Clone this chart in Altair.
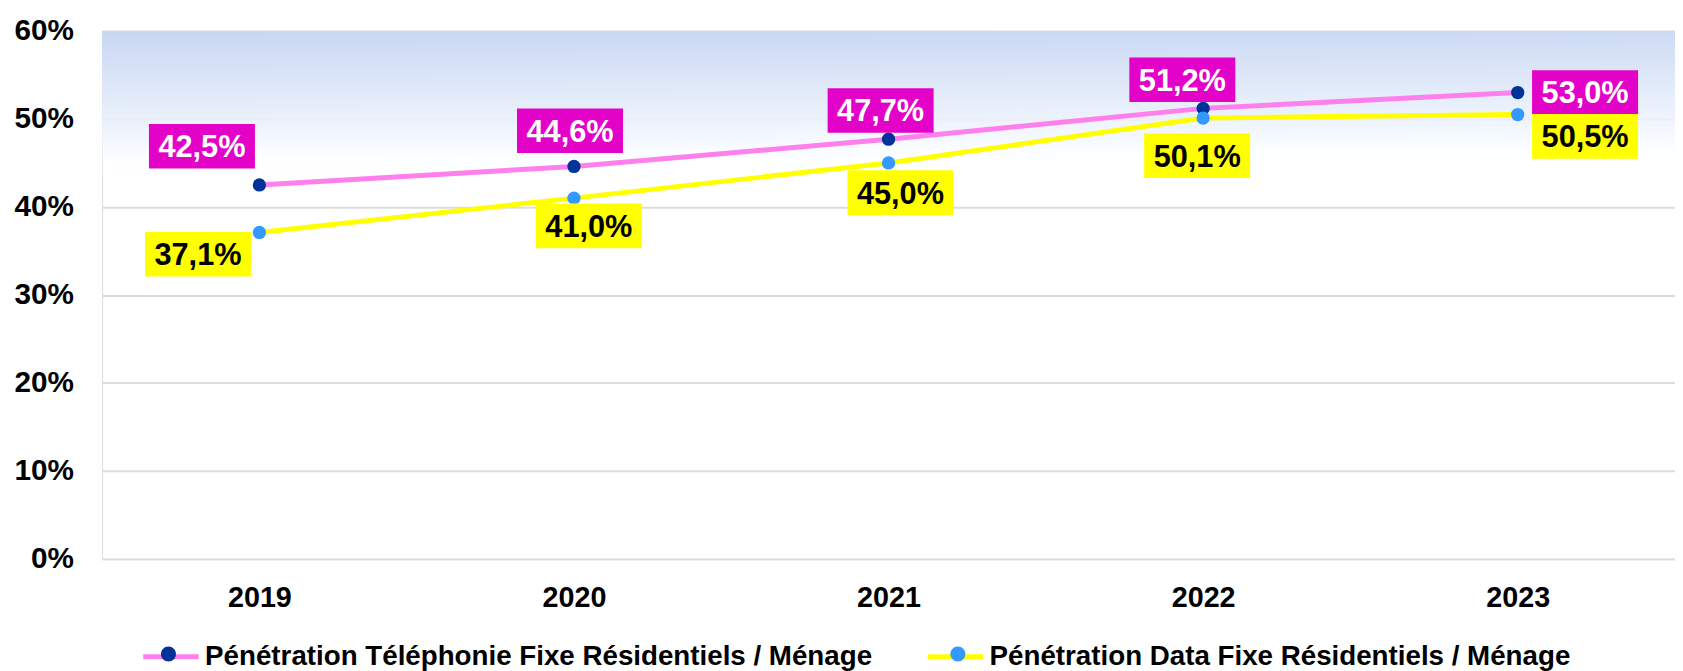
import altair as alt
import pandas as pd

# ---- data ----
years = ["2019", "2020", "2021", "2022", "2023"]
series_names = [
    "Pénétration Téléphonie Fixe Résidentiels / Ménage",
    "Pénétration Data Fixe Résidentiels / Ménage",
]
series_codes = ["t", "d"]
telephonie = [0.425, 0.446, 0.477, 0.512, 0.530]
data_fixe = [0.371, 0.410, 0.450, 0.501, 0.505]
y_ticks = [0, 0.1, 0.2, 0.3, 0.4, 0.5, 0.6]

# label placement (pixel offsets of each value box from its point)
tel_label_dx = [-58, -4, -8, -21, 68]
tel_label_dy = [-39, -36, -29, -29, 0]
data_label_dx = [-62, 15, 12, -6, 68]
data_label_dy = [22, 28, 30, 38, 22]

PINK_LINE = "#FF80EC"
YELLOW = "#FFFF00"
DARK_BLUE = "#003399"
LIGHT_BLUE = "#3399FF"
MAGENTA = "#E302C8"
FONT = "Liberation Sans"

rows = []
for i, yr in enumerate(years):
    rows.append(dict(year=yr, series=series_names[0], code=series_codes[0],
                     value=telephonie[i], dx=tel_label_dx[i], dy=tel_label_dy[i], k=0))
    rows.append(dict(year=yr, series=series_names[1], code=series_codes[1],
                     value=data_fixe[i], dx=data_label_dx[i], dy=data_label_dy[i], k=1))
df = pd.DataFrame(rows)

W, H = 1588, 533

x_enc = alt.X(
    "year:O",
    scale=alt.Scale(type="point", padding=0.5),
    axis=alt.Axis(title=None, labelFont=FONT, labelFontSize=29, labelFontWeight="bold",
                  labelColor="black", labelAngle=0, labelPadding=48,
                  labelBaseline="alphabetic", ticks=False, tickSize=0,
                  domain=False, grid=False),
)
y_enc = alt.Y(
    "value:Q",
    scale=alt.Scale(domain=[0, 0.6], nice=False, zero=True),
    axis=alt.Axis(title=None, format=".0%", values=y_ticks, labelFont=FONT,
                  labelFontSize=30, labelFontWeight="bold", labelColor="black",
                  labelPadding=29, ticks=False, tickSize=0, domain=False,
                  grid=True, gridColor="#dcdcdc", gridWidth=2),
)

base = alt.Chart(df).encode(x=x_enc, y=y_enc)

circle_path = ("M0.27,0 A0.27,0.27 0 1,1 -0.27,0 "
               "A0.27,0.27 0 1,1 0.27,0 Z")

legend_common = dict(
    orient="none", legendX=39, legendY=601, direction="horizontal", title=None,
    symbolSize=3136, labelFont=FONT, labelFontSize=28, labelFontWeight="bold",
    labelOffset=4, labelLimit=2000,
)

lines = base.mark_line(strokeWidth=5).encode(
    stroke=alt.Stroke(
        "series:N",
        scale=alt.Scale(domain=series_names, range=[PINK_LINE, YELLOW]),
        sort=series_names,
        legend=alt.Legend(symbolType="stroke", symbolStrokeWidth=5,
                          labelColor="black", columnPadding=45, **legend_common),
    )
)

# marker legend: circles only, laid over the line legend's symbols
points = base.mark_point(filled=True, size=180, opacity=1, strokeWidth=0).encode(
    fill=alt.Fill(
        "code:N",
        scale=alt.Scale(domain=series_codes, range=[DARK_BLUE, LIGHT_BLUE]),
        sort=series_codes,
        legend=alt.Legend(symbolType=circle_path, symbolStrokeWidth=0,
                          symbolOpacity=1, labelExpr="''", columnPadding=737,
                          **legend_common),
    ),
    order=alt.Order("k:Q"),
)

# light blue wash at the top of the plot (slide background)
wash = alt.Chart(df).mark_rect(
    fill=alt.LinearGradient(
        gradient="linear", x1=0, x2=0.08, y1=0, y2=1,
        stops=[alt.GradientStop(color="rgba(200,214,242,0.5)", offset=0),
               alt.GradientStop(color="rgba(228,236,249,0.28)", offset=0.5),
               alt.GradientStop(color="rgba(255,255,255,0)", offset=1)],
    )
).encode(
    x=alt.value(0), x2=alt.value(W),
    y=alt.datum(0.6, type="quantitative"), y2=alt.datum(0.43),
)

box_path = "M-2.378,-1 L2.378,-1 L2.378,1 L-2.378,1 Z"
labelled = base.transform_calculate(
    label="replace(format(datum.value, '.1%'), '.', ',')"
)


def boxes(k, color):
    return labelled.transform_filter(f"datum.k == {k}").mark_point(
        shape=box_path, size=2025, filled=True, opacity=1, strokeWidth=0,
        color=color, xOffset=alt.expr("datum.dx"), yOffset=alt.expr("datum.dy"),
    )


def texts(k, color):
    return labelled.transform_filter(f"datum.k == {k}").mark_text(
        font=FONT, fontSize=31, fontWeight="bold", align="center",
        baseline="middle", color=color,
        xOffset=alt.expr("datum.dx"), yOffset=alt.expr("datum.dy + 2"),
    ).encode(text="label:N")


chart = alt.layer(
    wash, lines, points,
    boxes(0, MAGENTA), boxes(1, YELLOW),
    texts(0, "white"), texts(1, "black"),
).properties(
    width=W, height=H,
    padding={"left": 95, "top": 20, "right": 0, "bottom": 110},
    autosize=alt.AutoSizeParams(type="none"),
).configure_view(
    stroke="transparent",
).configure(font=FONT)

chart.save("out.html", embed_options={"renderer": "svg", "actions": False})
